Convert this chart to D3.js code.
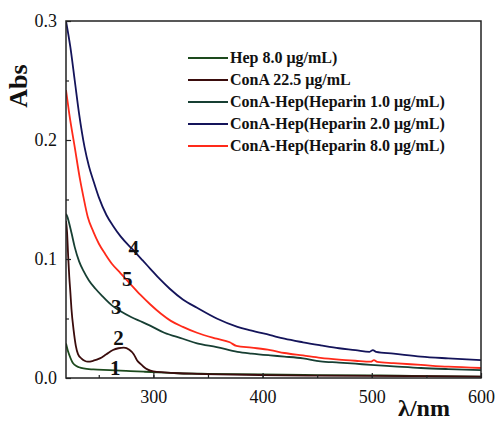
<!DOCTYPE html>
<html><head><meta charset="utf-8">
<script src="https://cdn.jsdelivr.net/npm/d3@7"></script>
<style>body{margin:0;background:#fff}</style>
</head><body>
<script>
const seriesNames = ["Hep 8.0 \u03bcg/mL)", "ConA 22.5 \u03bcg/mL", "ConA-Hep(Heparin 1.0 \u03bcg/mL)", "ConA-Hep(Heparin 2.0 \u03bcg/mL)", "ConA-Hep(Heparin 8.0 \u03bcg/mL)"];
const seriesColors = ["#1d4a1d", "#3a0c0c", "#173f33", "#14145a", "#ff2a1a"];
const curveLabels = ["1", "2", "3", "4", "5"];
const s1 = [[220,.029],[222,.022],[224,.017],[226,.013],[228,.011],[232,.009],[236,.008],[245,.0072],[260,.0067],[275,.006],[291,.0053],[310,.0045],[323,.004],[350,.0035],[400,.003],[450,.0025],[500,.0022],[525,.002],[550,.0015],[600,.0012]];
const s2 = [[220,.132],[221,.122],[222,.102],[223,.085],[224,.072],[225,.058],[227,.040],[229,.027],[231,.020],[234,.0165],[237,.0145],[240,.0137],[245,.0145],[251,.0165],[257,.020],[263,.0235],[268,.025],[273,.0255],[278,.0237],[282,.020],[285,.015],[288,.012],[291,.0095],[295,.007],[300,.0055],[310,.0047],[323,.004],[340,.0035],[360,.003],[400,.0025],[450,.002],[500,.0018],[550,.0015],[600,.0012]];
const s3 = [[220,.138],[221,.136],[225,.122],[228,.110],[232,.098],[236,.090],[241,.082],[247,.075],[253,.069],[262,.061],[270,.056],[280,.051],[290,.047],[297,.044],[310,.038],[327,.033],[340,.029],[358,.026],[377,.022],[390,.0205],[407,.019],[420,.018],[437,.0165],[453,.014],[470,.013],[485,.012],[499,.011],[520,.0098],[545,.0084],[570,.0075],[600,.0067]];
const s4 = [[220,.300],[224,.278],[228,.250],[232,.222],[237,.194],[241,.178],[245,.166],[250,.152],[257,.137],[263,.128],[270,.119],[281,.108],[290,.099],[297,.092],[306,.083],[315,.075],[327,.066],[340,.059],[358,.050],[377,.043],[389,.040],[407,.036],[420,.033],[437,.030],[453,.0275],[470,.025],[485,.0235],[498,.022],[501,.0235],[504,.022],[520,.0205],[545,.018],[570,.0165],[600,.015]];
const s5 = [[220,.242],[223,.222],[228,.194],[233,.166],[236,.152],[240,.135],[245,.123],[250,.113],[256,.104],[262,.096],[270,.088],[278,.080],[288,.070],[297,.062],[307,.054],[316,.048],[327,.043],[340,.038],[358,.033],[370,.030],[376,.027],[390,.0255],[407,.0235],[420,.021],[437,.019],[453,.017],[470,.0155],[485,.0145],[499,.0137],[502,.015],[505,.0135],[520,.0125],[545,.011],[570,.0095],[600,.0084]];
const allSeries = [s1, s2, s3, s4, s5];
const labelPos = [[265, 0.008], [268, 0.034], [266, 0.060], [282, 0.109], [276, 0.083]];
const xTicks = [300, 400, 500, 600];
const xMinor = [250, 300, 350, 400, 450, 500, 550];
const yTicks = [0.0, 0.1, 0.2, 0.3];
const yMinor = [0.05, 0.15, 0.25];

const W = 495, H = 421;
const m = {l: 66, t: 21, r: 481, b: 378};
const x = d3.scaleLinear().domain([220, 600]).range([m.l, m.r]);
const y = d3.scaleLinear().domain([0, 0.3]).range([m.b, m.t]);
const svg = d3.select("body").append("svg").attr("width", W).attr("height", H);
const serif = "'Liberation Serif','Times New Roman',serif";

svg.append("defs").append("clipPath").attr("id", "clip").append("rect")
  .attr("x", m.l).attr("y", m.t).attr("width", m.r - m.l).attr("height", m.b - m.t);

const line = d3.line().x(d => x(d[0])).y(d => y(d[1])).curve(d3.curveMonotoneX);
const g = svg.append("g").attr("clip-path", "url(#clip)");
allSeries.forEach((s, i) => {
  g.append("path").datum(s).attr("d", line).attr("fill", "none")
    .attr("stroke", seriesColors[i]).attr("stroke-width", 1.8).attr("stroke-linejoin", "round");
});

// axes
const xAxis = d3.axisBottom(x).tickValues(xTicks).tickSize(-5).tickPadding(12).tickFormat(d3.format("d"));
const xAx = svg.append("g").attr("transform", `translate(0,${m.b})`).call(xAxis);
const yAxis = d3.axisLeft(y).tickValues(yTicks).tickSize(-5).tickPadding(9).tickFormat(d3.format(".1f"));
const yAx = svg.append("g").attr("transform", `translate(${m.l},0)`).call(yAxis);
svg.append("g").attr("transform", `translate(0,${m.b})`).call(d3.axisBottom(x).tickValues(xMinor).tickSize(-3).tickFormat(""));
svg.append("g").attr("transform", `translate(${m.l},0)`).call(d3.axisLeft(y).tickValues(yMinor).tickSize(-3).tickFormat(""));
svg.selectAll(".domain").remove();
svg.selectAll(".tick line").attr("stroke", "#222").attr("stroke-width", 1.2);
[xAx, yAx].forEach(a => a.selectAll("text").attr("font-family", serif).attr("font-size", 18).attr("fill", "#111"));

svg.append("rect").attr("x", m.l).attr("y", m.t).attr("width", m.r - m.l).attr("height", m.b - m.t)
  .attr("fill", "none").attr("stroke", "#222").attr("stroke-width", 1.5);

// axis titles
svg.append("text").attr("transform", "translate(27,86) rotate(-90)").attr("text-anchor", "middle")
  .attr("font-family", serif).attr("font-weight", "bold").attr("font-size", 26).attr("fill", "#111").text("Abs");
svg.append("text").attr("x", 424).attr("y", 416).attr("text-anchor", "middle")
  .attr("font-family", serif).attr("font-weight", "bold").attr("font-size", 24).attr("fill", "#111").text("\u03bb/nm");

// legend
const leg = svg.append("g");
seriesNames.forEach((n, i) => {
  const yy = 58 + i * 22;
  leg.append("line").attr("x1", 188).attr("x2", 228).attr("y1", yy).attr("y2", yy)
    .attr("stroke", seriesColors[i]).attr("stroke-width", 1.8);
  leg.append("text").attr("x", 230).attr("y", yy + 5).attr("font-family", serif).attr("font-weight", "bold")
    .attr("font-size", 16).attr("fill", "#111").text(n);
});

// curve number labels (positions in data coordinates)
curveLabels.forEach((t, i) => {
  svg.append("text").attr("x", x(labelPos[i][0])).attr("y", y(labelPos[i][1])).attr("text-anchor", "middle")
    .attr("dominant-baseline", "central").attr("font-family", serif).attr("font-weight", "bold")
    .attr("font-size", 21).attr("fill", "#111").text(t);
});
</script>
</body></html>
